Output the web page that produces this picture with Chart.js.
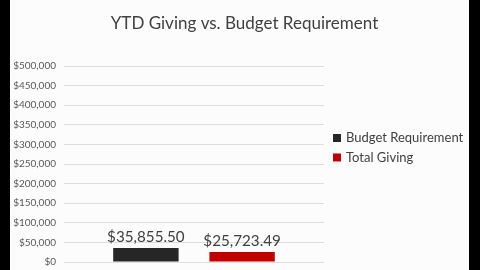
<!DOCTYPE html>
<html><head><meta charset="utf-8">
<script src="https://cdn.jsdelivr.net/npm/chart.js@4"></script>
<style>
html,body{margin:0;padding:0;background:#000;width:480px;height:270px;overflow:hidden}
canvas{display:block}
</style></head>
<body><canvas id="c" width="480" height="270"></canvas>
<script>
const chartTitle = "YTD Giving vs. Budget Requirement";
const categories = [""];
const seriesNames = ["Budget Requirement", "Total Giving"];
const budgetRequirement = [35855.50];
const totalGiving = [25723.49];
const seriesColors = ["#262626", "#c00000"];
const yMax = 500000;
const yStep = 50000;

const fmtMoney = v => "$" + v.toLocaleString("en-US", {minimumFractionDigits:2, maximumFractionDigits:2});
const fmtTick = v => "$" + Number(v).toLocaleString("en-US");
const FONT = "Lato, sans-serif";

const frame = {
  id: "frame",
  afterLayout(chart) {
    const y = chart.scales.y;
    const target = 262;
    if (y && Math.abs(y.bottom - target) > 0.5) {
      y.bottom = target;
      y.height = y.bottom - y.top;
      y._gridLineItems = null;
      y._labelItems = null;
      y.configure();
      chart.chartArea.bottom = target;
      chart.chartArea.height = target - chart.chartArea.top;
      const x = chart.scales.x;
      if (x) { x.top = target; x.bottom = target; }
    }
  },
  beforeDraw(chart) {
    const ctx = chart.ctx;
    ctx.save();
    ctx.fillStyle = "#000";
    ctx.fillRect(0, 0, chart.width, chart.height);
    ctx.fillStyle = "#fcfcfc";
    ctx.fillRect(10, 0, 459, chart.height);
    ctx.font = "17px " + FONT;
    ctx.fillStyle = "#404040";
    ctx.textAlign = "center";
    ctx.textBaseline = "alphabetic";
    ctx.fillText(chartTitle, 244.5, 29);
    ctx.restore();
  }
};

const valueLabels = {
  id: "valueLabels",
  afterDatasetsDraw(chart) {
    const ctx = chart.ctx;
    ctx.font = "16px " + FONT;
    ctx.fillStyle = "#404040";
    ctx.textAlign = "center";
    ctx.textBaseline = "alphabetic";
    chart.data.datasets.forEach((ds, i) => {
      chart.getDatasetMeta(i).data.forEach((el, j) => {
        ctx.save();
        ctx.translate(el.x, el.y - 6);
        ctx.scale(0.95, 1);
        ctx.fillText(fmtMoney(ds.data[j]), 0, 0);
        ctx.restore();
      });
    });
  }
};

const sideLegend = {
  id: "sideLegend",
  afterDraw(chart) {
    const ctx = chart.ctx;
    const x0 = chart.chartArea.right + 9;
    ctx.save();
    ctx.font = "13px " + FONT;
    ctx.textBaseline = "middle";
    ctx.textAlign = "left";
    chart.data.datasets.forEach((ds, i) => {
      const cy = 138 + i * 19.5;
      ctx.fillStyle = ds.backgroundColor;
      ctx.fillRect(x0, cy - 4, 8, 8);
      ctx.fillStyle = "#404040";
      ctx.fillText(ds.label, x0 + 13, cy);
    });
    ctx.restore();
  }
};

new Chart(document.getElementById("c"), {
  type: "bar",
  data: {
    labels: categories,
    datasets: [
      {label: seriesNames[0], data: budgetRequirement, backgroundColor: seriesColors[0]},
      {label: seriesNames[1], data: totalGiving, backgroundColor: seriesColors[1]}
    ]
  },
  options: {
    responsive: false,
    animation: false,
    devicePixelRatio: 1,
    categoryPercentage: 0.74,
    barPercentage: 0.68,
    layout: {autoPadding: false, padding: {left: 10, right: 156, top: 66, bottom: 8}},
    plugins: {
      title: {display: false},
      legend: {display: false},
      tooltip: {enabled: false}
    },
    scales: {
      x: {display: false},
      y: {min: 0, max: yMax,
        afterFit(scale) { scale.width = 54; },
        ticks: {stepSize: yStep, callback: fmtTick, color: "#595959", padding: 8,
          font: {family: FONT, size: 10}},
        grid: {color: "#dedede", drawTicks: false},
        border: {display: false}}
    }
  },
  plugins: [frame, valueLabels, sideLegend]
});
</script></body></html>
